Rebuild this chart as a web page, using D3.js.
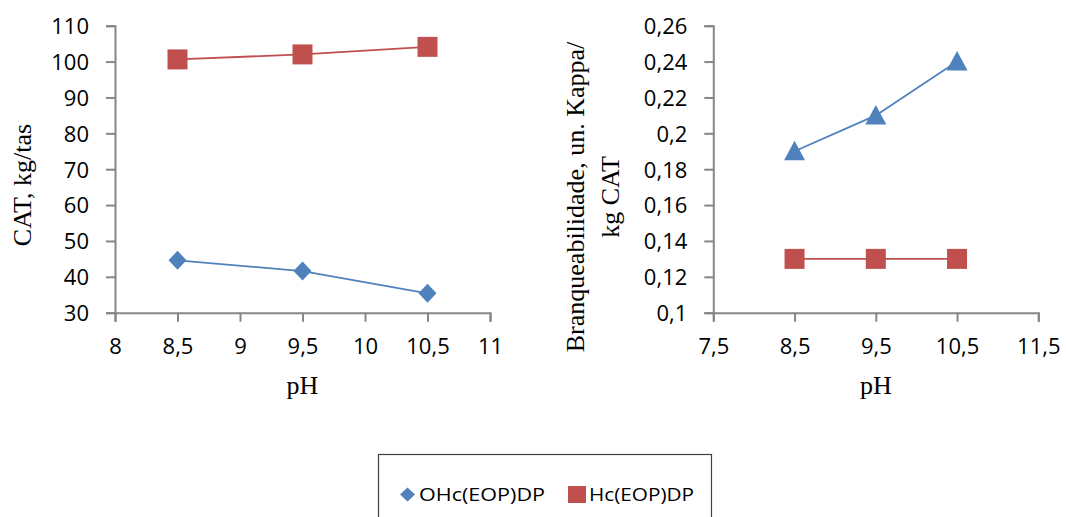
<!DOCTYPE html>
<html>
<head>
<meta charset="utf-8">
<script src="https://cdn.jsdelivr.net/npm/d3@7"></script>
<style>
  html, body { margin: 0; padding: 0; background: #fff; }
  svg { display: block; }
</style>
</head>
<body>
<svg id="chart" width="1067" height="517"></svg>
<script>
// pH levels tested
const phValues = [8.5, 9.5, 10.5];

// Left panel: CAT consumption (kg/tas)
const catOHc = [44.6, 41.6, 35.4];
const catHc = [100.6, 102.0, 104.1];

// Right panel: bleachability (Kappa units / kg CAT)
const brOHc = [0.19, 0.21, 0.24];
const brHc = [0.13, 0.13, 0.13];

// Axis ticks
const leftXTicks = [8, 8.5, 9, 9.5, 10, 10.5, 11];
const leftYTicks = [30, 40, 50, 60, 70, 80, 90, 100, 110];
const rightXTicks = [7.5, 8.5, 9.5, 10.5, 11.5];
const rightYTicks = [0.1, 0.12, 0.14, 0.16, 0.18, 0.2, 0.22, 0.24, 0.26];

const seriesNames = ["OHc(EOP)DP", "Hc(EOP)DP"];

const BLUE = "#4F81BD";
const RED = "#C0504D";
const AXIS = "#868686";
const SANS = "'Open Sans', 'Liberation Sans', sans-serif";
const SERIF = "'Liberation Serif', 'DejaVu Serif', serif";

const svg = d3.select("#chart");
const comma = v => String(v).replace(".", ",");

function panel(opts) {
  const g = svg.append("g");
  const x = d3.scaleLinear().domain(opts.xDomain).range(opts.xRange);
  const y = d3.scaleLinear().domain(opts.yDomain).range(opts.yRange);

  const xAxis = g.append("g")
    .attr("transform", `translate(0,${opts.yRange[0]})`)
    .call(d3.axisBottom(x).tickValues(opts.xTicks).tickSize(9).tickPadding(17).tickFormat(comma));
  const yAxis = g.append("g")
    .attr("transform", `translate(${opts.xRange[0]},0)`)
    .call(d3.axisLeft(y).tickValues(opts.yTicks).tickSize(9).tickPadding(17).tickFormat(comma));

  [xAxis, yAxis].forEach(a => {
    a.select(".domain").attr("stroke", AXIS).attr("stroke-width", 2);
    a.selectAll(".tick line").attr("stroke", AXIS).attr("stroke-width", 2);
    a.selectAll(".tick text")
      .attr("fill", "#000")
      .style("font-family", SANS)
      .style("font-size", "22px");
  });
  xAxis.selectAll(".tick text").attr("dy", "0.71em");
  yAxis.selectAll(".tick text").attr("dy", "0.36em");

  // x title
  g.append("text")
    .attr("x", (opts.xRange[0] + opts.xRange[1]) / 2)
    .attr("y", 394)
    .attr("text-anchor", "middle")
    .style("font-family", SERIF)
    .style("font-size", "26px")
    .text("pH");

  // y title (one or more lines)
  opts.yTitle.forEach((line, i) => {
    g.append("text")
      .attr("transform", `translate(${opts.yTitleX[i]},${opts.yTitleY}) rotate(-90)`)
      .attr("text-anchor", "middle")
      .style("font-family", SERIF)
      .style("font-size", "26px")
      .text(line);
  });

  const line = d3.line().x(d => x(d[0])).y(d => y(d[1]));
  opts.series.forEach(s => {
    const pts = phValues.map((p, i) => [p, s.values[i]]);
    g.append("path")
      .datum(pts)
      .attr("fill", "none")
      .attr("stroke", s.color)
      .attr("stroke-width", 1.8)
      .attr("d", line);
    g.selectAll(null)
      .data(pts)
      .enter()
      .append("path")
      .attr("transform", d => `translate(${x(d[0])},${y(d[1])})`)
      .attr("fill", s.color)
      .attr("d", s.shape);
  });
}

// Marker shapes
const square = "M-10,-10H10V10H-10Z";
const diamond = "M0,-9.5L9,0L0,9.5L-9,0Z";
const triangle = "M0,-10.5L10.5,9H-10.5Z";

panel({
  xDomain: [8, 11], xRange: [115, 490],
  yDomain: [30, 110], yRange: [312.7, 25.7],
  xTicks: leftXTicks, yTicks: leftYTicks,
  yTitle: ["CAT, kg/tas"], yTitleX: [31], yTitleY: 185,
  series: [
    { values: catOHc, color: BLUE, shape: diamond },
    { values: catHc, color: RED, shape: square }
  ]
});

panel({
  xDomain: [7.5, 11.5], xRange: [713.3, 1038.3],
  yDomain: [0.1, 0.26], yRange: [312.7, 25.7],
  xTicks: rightXTicks, yTicks: rightYTicks,
  yTitle: ["Branqueabilidade, un. Kappa/", "kg CAT"], yTitleX: [584, 619], yTitleY: 197,
  series: [
    { values: brOHc, color: BLUE, shape: triangle },
    { values: brHc, color: RED, shape: square }
  ]
});

// Legend
const legend = svg.append("g");
legend.append("rect")
  .attr("x", 378.5).attr("y", 454.5)
  .attr("width", 333).attr("height", 80)
  .attr("fill", "#fff")
  .attr("stroke", "#404040")
  .attr("stroke-width", 1.2);

const legendItems = [
  { name: seriesNames[0], color: BLUE, shape: "M0,-7L7.5,0L0,7L-7.5,0Z", mx: 407.5, tx: 419, len: 126 },
  { name: seriesNames[1], color: RED, shape: "M-9,-8.5H9V8.5H-9Z", mx: 577, tx: 589, len: 105 }
];
legendItems.forEach(it => {
  legend.append("path")
    .attr("transform", `translate(${it.mx},494.5)`)
    .attr("fill", it.color)
    .attr("d", it.shape);
  legend.append("text")
    .attr("x", it.tx).attr("y", 501)
    .attr("textLength", it.len)
    .attr("lengthAdjust", "spacingAndGlyphs")
    .style("font-family", SANS)
    .style("font-size", "18px")
    .attr("fill", "#000")
    .text(it.name);
});
</script>
</body>
</html>
